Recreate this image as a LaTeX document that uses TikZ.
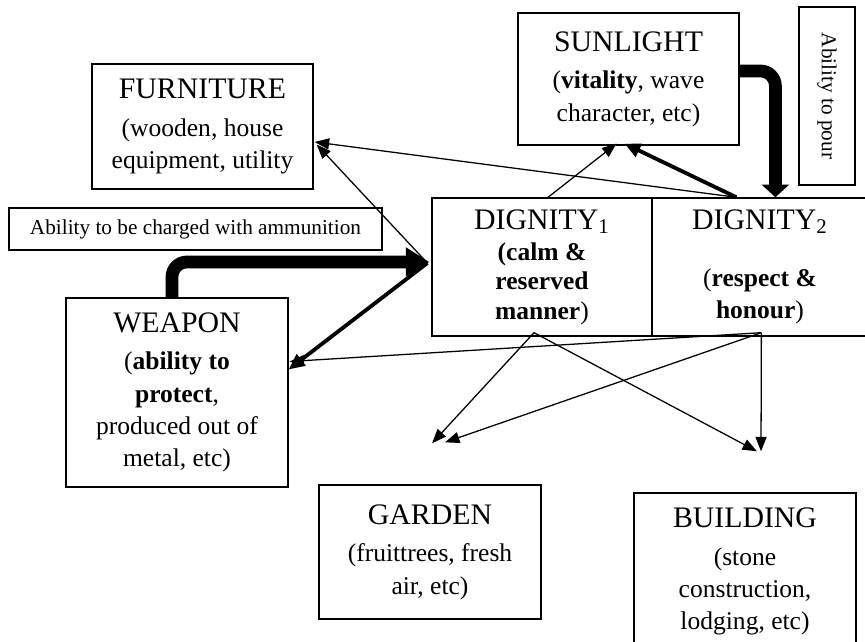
\documentclass[tikz,border=0pt]{standalone}
\usepackage{fontspec}
\setmainfont{Liberation Serif}
\usetikzlibrary{arrows.meta}
\usetikzlibrary{calc}

\newcommand{\ttl}[1]{{\fontsize{14}{17}\selectfont #1}\\[2.5pt]}

\begin{document}
\begin{tikzpicture}[x=0.47pt,y=-0.47pt]
      \useasboundingbox (0,0) rectangle (865,642);

      \begin{scope}[every node/.style={rectangle,draw,line width=0.6pt,align=center,
          inner sep=0pt,font=\fontsize{12}{15.2}\selectfont}]
        \node[minimum width=103.9pt,minimum height=58.8pt] (furniture) at (202.5,126.5)
          {\ttl{FURNITURE}(wooden, house\\equipment, utility};
        \node[minimum width=175.3pt,minimum height=19.7pt,font=\fontsize{10}{12}\selectfont] (charge) at (195.5,229)
          {Ability to be charged with ammunition};
        \node[minimum width=104.3pt,minimum height=88.8pt] (weapon) at (177,392.5)
          {\ttl{WEAPON}(\textbf{ability to}\\\textbf{protect},\\produced out of\\metal, etc)};
        \node[minimum width=103.9pt,minimum height=62pt] (sun) at (628.5,79)
          {\ttl{SUNLIGHT}(\textbf{vitality}, wave\\character, etc)};
        \node[minimum width=83.7pt,minimum height=26.3pt,rotate=-90,font=\fontsize{10}{12}\selectfont] (pour) at (827,96)
          {Ability to pour};
        \node[minimum width=103.4pt,minimum height=64.9pt,font=\fontsize{12}{13.8}\selectfont] (dig1) at (542,267)
          {{\fontsize{14}{17}\selectfont DIGNITY\textsubscript{1}}\\[1pt]\textbf{(calm \&}\\\textbf{reserved}\\\textbf{manner})};
        \node[minimum width=101.5pt,minimum height=64.9pt] (dig2) at (760,267)
          {\ttl{DIGNITY\textsubscript{2}}\\[-6pt](\textbf{respect \&}\\\textbf{honour})};
        \node[minimum width=104.3pt,minimum height=63pt] (garden) at (430,552)
          {\ttl{GARDEN}(fruittrees, fresh\\air, etc)};
        \node[minimum width=104.3pt,minimum height=73.8pt] (building) at (745,571.5)
          {\ttl{BUILDING}(stone\\construction,\\lodging, etc)};
      \end{scope}

      % points the arrows leave from / point at
      \coordinate (d1out) at ($(dig1.south)+(-8,-4)$);
      \coordinate (d2out) at ($(dig2.south west)+(110,-4)$);
      \coordinate (gardenin) at ($(garden.north)+(2,-41)$);
      \coordinate (gardenin2) at ($(garden.north)+(15,-42)$);
      \coordinate (buildin) at ($(building.north)+(12,-41)$);
      \coordinate (buildin2) at ($(building.north)+(16,-41)$);

      \begin{scope}[>={Triangle[length=6.8pt,width=5.2pt]},
          every edge/.style={draw=black,line width=0.6pt}]
        \path [->] ($(dig2.north west)+(85,0)$) edge ($(furniture.east)+(1,15.5)$);
        \path [->] ($(dig1.west)+(-4,-4)$) edge ($(furniture.east)+(3,18)$);
        \path [->] ($(dig1.north)+(6,0)$) edge ($(sun.south)+(-12,-2)$);
        \path [->] (d2out) edge ($(weapon.east)+(1,-31)$);
        \path [->] (d1out) edge (gardenin);
        \path [->] (d1out) edge (buildin);
        \path [->] (d2out) edge (gardenin2);
        \path [->] (d2out) edge (buildin2);
      \end{scope}

      \draw[line width=1.8pt,-{Triangle[length=7.5pt,width=6.5pt]}]
        ($(dig2.north west)+(85,0)$) -- ($(sun.south)+(-4,-2)$);
      \draw[line width=1.8pt,-{Triangle[length=7.5pt,width=6.5pt]}]
        ($(dig1.west)+(-4,-4)$) -- ($(weapon.east)+(0,-23)$);
      \draw[line width=6pt,rounded corners=7pt,-{Triangle[length=11pt,width=13pt]}]
        ($(weapon.north)+(-5,0)$) |- ($(dig1.west)+(-2,-5)$);
      \draw[line width=6pt,rounded corners=7pt,-{Triangle[length=6pt,width=12.7pt]}]
        ($(sun.east)+(0,-8)$) -| ($(dig2.north west)+(124,0)$);
\end{tikzpicture}
\end{document}
